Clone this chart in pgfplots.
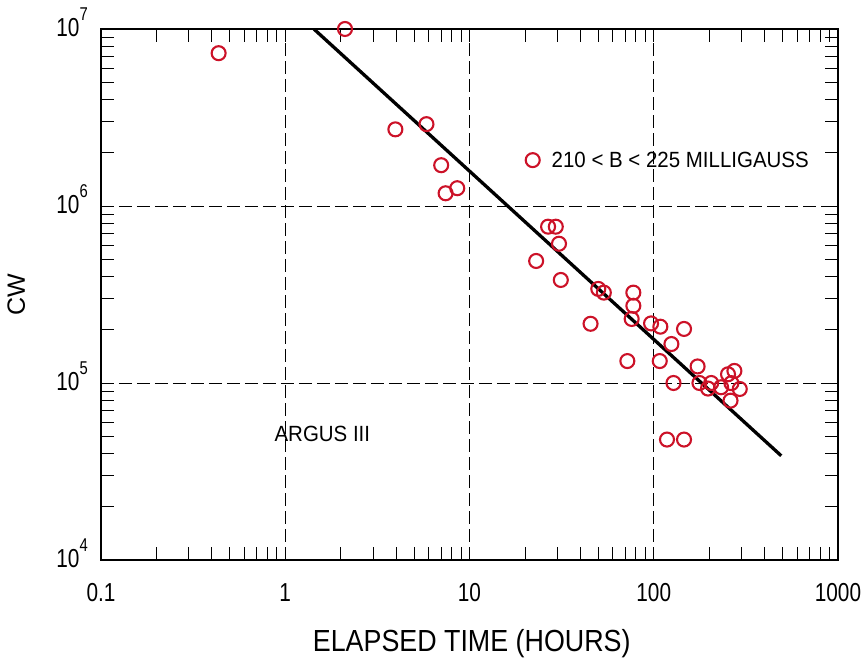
\documentclass[border=0pt]{standalone}
\usepackage{fontspec}
\setmainfont{Liberation Sans}[FakeStretch=0.88]
\newfontfamily\plainfont{Liberation Sans}
\newfontfamily\tickfont{Liberation Sans}[FakeStretch=0.8]
\newfontfamily\annfont{Liberation Sans}[FakeStretch=0.93]
\usepackage{pgfplots}
\pgfplotsset{compat=1.18}
\definecolor{ptred}{RGB}{204,18,40}

\newcommand{\dec}[1]{10\raisebox{16pt}{\fontsize{18.5}{18.5}\selectfont #1}}

\begin{document}
\begin{tikzpicture}
\begin{axis}[
    scale only axis,
    width=737pt, height=531pt,
    xmode=log, ymode=log,
    xmin=0.1, xmax=1000,
    ymin=1e4, ymax=1e7,
    axis line style={line width=2.2pt},
    every tick/.style={black, line width=0.9pt},
    major tick length=13pt,
    minor tick length=13pt,
    tick align=inside,
    grid=major,
    major grid style={black, line width=0.8pt, dash pattern=on 13pt off 5pt},
    xtick={0.1,1,10,100,1000},
    xticklabels={0.1,1,10,100,1000},
    ytick={1e4,1e5,1e6,1e7},
    yticklabels={\dec{4},\dec{5},\dec{6},\dec{7}},
    xticklabel style={font=\tickfont\fontsize{26}{26}\selectfont, inner sep=0pt, yshift=-23pt},
    yticklabel style={font=\tickfont\fontsize{26}{26}\selectfont, anchor=base east, inner sep=0pt, xshift=-13pt, yshift=-8pt},
    xlabel={ELAPSED TIME (HOURS)},
    ylabel={CW},
    xlabel style={font=\fontsize{30.5}{30.5}\selectfont, at={(axis description cs:0.503,-0.158)}, anchor=center},
    ylabel style={font=\plainfont\fontsize{25}{25}\selectfont, at={(axis description cs:-0.115,0.5)}, anchor=center},
    legend style={at={(axis description cs:0.576,0.753)}, anchor=west, draw=none, fill=none,
        inner sep=0pt, font=\annfont\fontsize{22}{22}\selectfont},
    legend cell align=left,
]
\addplot[black, line width=3.3pt, forget plot] coordinates {(1.43,1e7) (492,3.88e4)};
\addplot[only marks, mark=o, mark size=7pt, mark options={ptred, line width=2.1pt}] coordinates {
    (0.435,7.3e6) (2.11,1.0e7) (3.96,2.71e6) (5.84,2.9e6) (7.02,1.70e6)
    (7.42,1.18e6) (8.58,1.26e6) (26.7,7.64e5) (29.4,7.64e5) (30.6,6.12e5)
    (23.0,4.89e5) (31.3,3.82e5) (50.0,3.40e5) (53.6,3.24e5) (77.5,3.24e5)
    (77.5,2.73e5) (75.9,2.30e5) (45.4,2.16e5) (96.7,2.17e5) (108.6,2.08e5)
    (146,2.02e5) (124.7,1.66e5) (71.9,1.33e5) (107.8,1.33e5) (173,1.24e5)
    (274,1.17e5) (253,1.12e5) (128,1.0e5) (177,1.0e5) (205,1.0e5)
    (197,9.3e4) (232,9.46e4) (264,9.98e4) (293,9.25e4) (261,7.95e4)
    (118,4.79e4) (146,4.79e4)
};
\addlegendentry{\hspace*{10pt}210 < B < 225 MILLIGAUSS}
\node[font=\annfont\fontsize{22}{22}\selectfont] at (axis cs:1.59,5.15e4) {ARGUS III};
\end{axis}
\pgfresetboundingbox
\path[use as bounding box] ([shift={(-101pt,-108pt)}]current axis.south west) rectangle ([shift={(28pt,29pt)}]current axis.north east);
\end{tikzpicture}
\end{document}
